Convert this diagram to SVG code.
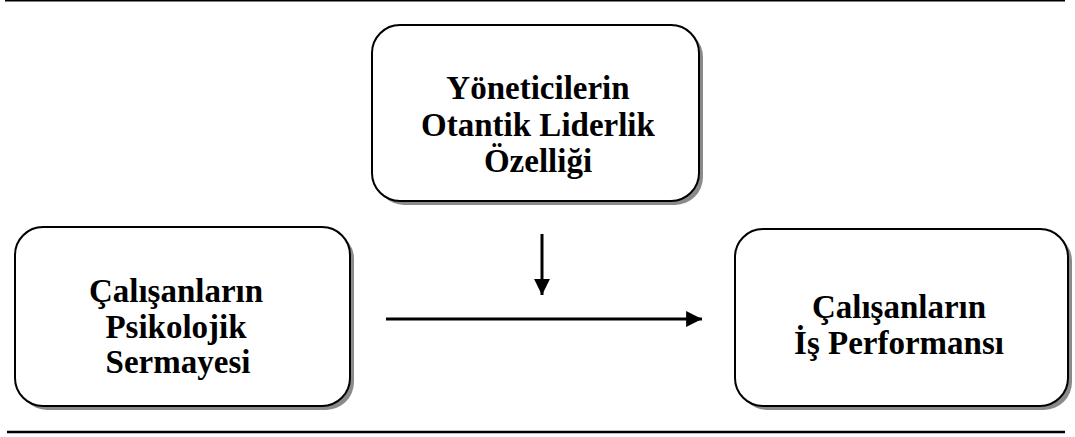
<svg xmlns="http://www.w3.org/2000/svg" width="1075" height="437" viewBox="0 0 1075 437">
  <style>
    .shadow { fill: #8a8a8a; stroke: none; }
    .box { fill: #ffffff; stroke: #000000; stroke-width: 2; }
    .label { font-family: "Liberation Serif", "Times New Roman", serif; font-weight: bold; font-size: 33px; fill: #000000; text-anchor: middle; }
    .rule { stroke: #000000; fill: none; }
    .conn { stroke: #000000; stroke-width: 3; fill: none; }
  </style>
  <defs>
    <marker id="head" viewBox="0 0 10 10" refX="10" refY="5" markerWidth="5.3" markerHeight="5.3" markerUnits="strokeWidth" orient="auto">
      <path d="M0,0 L10,5 L0,10 Z" fill="#000000"/>
    </marker>
  </defs>

  <!-- page rules -->
  <line class="rule" x1="5" y1="0.75" x2="1065" y2="0.75" stroke-width="1.5"/>
  <line class="rule" x1="7" y1="432" x2="1065" y2="432" stroke-width="2.5"/>

  <g id="node-leader">
    <rect class="shadow" x="376" y="29" width="327" height="176" rx="28"/>
    <rect class="box" x="372" y="25" width="327" height="176" rx="28"/>
    <text class="label" x="538" y="99">Yöneticilerin</text>
    <text class="label" x="538" y="136">Otantik Liderlik</text>
    <text class="label" x="538" y="172">Özelliği</text>
  </g>

  <g id="node-capital">
    <rect class="shadow" x="19" y="231" width="335" height="179" rx="28"/>
    <rect class="box" x="15" y="227" width="335" height="179" rx="28"/>
    <text class="label" x="176" y="302">Çalışanların</text>
    <text class="label" x="176" y="338">Psikolojik</text>
    <text class="label" x="178" y="373">Sermayesi</text>
  </g>

  <g id="node-performance">
    <rect class="shadow" x="739" y="233" width="333" height="177" rx="28"/>
    <rect class="box" x="735" y="229" width="333" height="177" rx="28"/>
    <text class="label" x="899" y="318">Çalışanların</text>
    <text class="label" x="899" y="354">İş Performansı</text>
  </g>

  <g id="connectors">
    <line class="conn" x1="542" y1="234" x2="542" y2="295" marker-end="url(#head)"/>
    <line class="conn" x1="386" y1="319" x2="702" y2="319" marker-end="url(#head)"/>
  </g>
</svg>
